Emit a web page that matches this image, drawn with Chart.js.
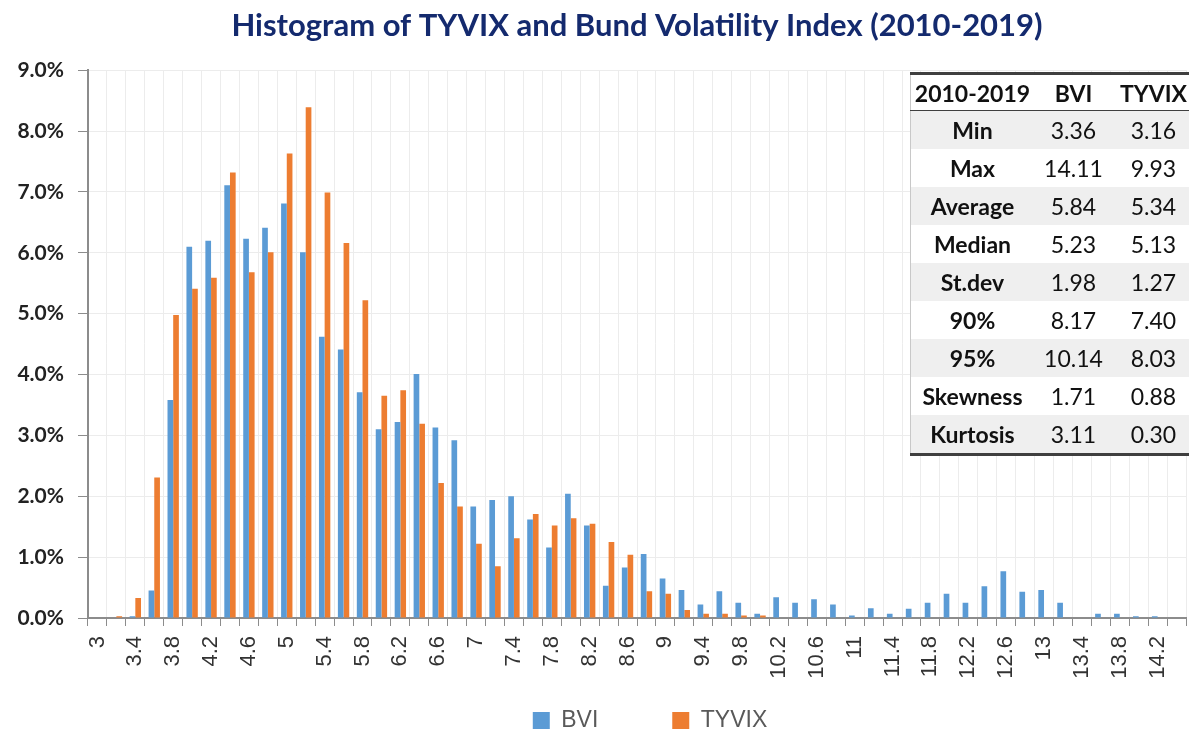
<!DOCTYPE html>
<html>
<head>
<meta charset="utf-8">
<script src="https://cdn.jsdelivr.net/npm/chart.js@4.4.1/dist/chart.umd.min.js"></script>
<style>
  html, body { margin: 0; padding: 0; background: #fff; overflow: hidden; }
  #wrap { position: relative; width: 1189px; height: 731px; overflow: hidden; }
  #stats { position: absolute; left: 910px; top: 72px; width: 284px; border-collapse: collapse;
    font-family: Lato, "Open Sans", sans-serif; font-size: 23px; color: #111;
    border-top: 3px solid #3f3f3f; border-bottom: 3px solid #3f3f3f; border-left: 1px solid #c8c8c8; }
  #stats td, #stats th { padding: 0; height: 38px; text-align: center; }
  #stats th { font-weight: bold; border-bottom: 1.5px solid #3f3f3f; height: 35px; background: #fff; }
  #stats td.lbl { font-weight: bold; width: 123px; }
  #stats td.v1 { width: 79px; }
  #stats tr.g td { background: #efefef; }
  #stats tr.w td { background: #fff; }
</style>
</head>
<body>
<div id="wrap">
  <canvas id="chart" width="1189" height="731"></canvas>
  <table id="stats"></table>
</div>
<script>
// ==================== DATA ====================
const bins = ["3", "3.2", "3.4", "3.6", "3.8", "4", "4.2", "4.4", "4.6", "4.8",
  "5", "5.2", "5.4", "5.6", "5.8", "6", "6.2", "6.4", "6.6", "6.8",
  "7", "7.2", "7.4", "7.6", "7.8", "8", "8.2", "8.4", "8.6", "8.8",
  "9", "9.2", "9.4", "9.6", "9.8", "10", "10.2", "10.4", "10.6", "10.8",
  "11", "11.2", "11.4", "11.6", "11.8", "12", "12.2", "12.4", "12.6", "12.8",
  "13", "13.2", "13.4", "13.6", "13.8", "14", "14.2", "14.4"];

// share of days in each bin, in percent
const bviPct = [0, 0, 0.03, 0.45, 3.58, 6.10, 6.20, 7.11, 6.23, 6.41,
  6.81, 6.01, 4.62, 4.41, 3.71, 3.10, 3.22, 4.01, 3.13, 2.92,
  1.83, 1.94, 2.00, 1.62, 1.16, 2.04, 1.52, 0.53, 0.83, 1.05,
  0.65, 0.46, 0.22, 0.44, 0.25, 0.07, 0.34, 0.25, 0.31, 0.22,
  0.04, 0.16, 0.07, 0.15, 0.25, 0.40, 0.25, 0.52, 0.77, 0.43,
  0.46, 0.25, 0, 0.07, 0.07, 0.03, 0.03, 0];
const tyvixPct = [0, 0.03, 0.33, 2.31, 4.98, 5.41, 5.59, 7.32, 5.68, 6.01,
  7.63, 8.39, 6.99, 6.16, 5.22, 3.65, 3.74, 3.19, 2.22, 1.83,
  1.22, 0.85, 1.31, 1.71, 1.52, 1.64, 1.55, 1.25, 1.04, 0.44,
  0.40, 0.13, 0.07, 0.07, 0.04, 0.04, 0, 0, 0, 0,
  0, 0, 0, 0, 0, 0, 0, 0, 0, 0,
  0, 0, 0, 0, 0, 0, 0, 0];

const yTicks = [0, 1, 2, 3, 4, 5, 6, 7, 8, 9];

// summary table
const statHeader = ["2010-2019", "BVI", "TYVIX"];
const statNames = ["Min", "Max", "Average", "Median", "St.dev", "90%", "95%", "Skewness", "Kurtosis"];
const statBvi = ["3.36", "14.11", "5.84", "5.23", "1.98", "8.17", "10.14", "1.71", "3.11"];
const statTyvix = ["3.16", "9.93", "5.34", "5.13", "1.27", "7.40", "8.03", "0.88", "0.30"];

// ==================== TABLE ====================
const table = document.getElementById("stats");
table.innerHTML = `<tr>${statHeader.map(h => `<th>${h}</th>`).join("")}</tr>` +
  statNames.map((n, i) => `<tr class="${i % 2 ? 'w' : 'g'}"><td class="lbl">${n}</td><td class="v1">${statBvi[i]}</td><td>${statTyvix[i]}</td></tr>`).join("");

// ==================== CHART ====================
const AXIS = "#8c8c8c", GRID = "#ececec";

// legend sits a little right of the plot centre in the original
const legendNudge = {
  id: "legendNudge",
  afterLayout(chart) {
    chart.legend.left += 13;
    chart.legend.right += 13;
  }
};

new Chart(document.getElementById("chart"), {
  type: "bar",
  data: {
    labels: bins,
    datasets: [
      { label: "BVI", data: bviPct, backgroundColor: "#5b9bd5" },
      { label: "TYVIX", data: tyvixPct, backgroundColor: "#ed7d31" }
    ]
  },
  plugins: [legendNudge],
  options: {
    responsive: false,
    devicePixelRatio: 1,
    animation: false,
    datasets: { bar: { categoryPercentage: 0.6, barPercentage: 1.0, borderWidth: 0 } },
    layout: { padding: { left: 0, right: 3, top: 0, bottom: -11 } },
    plugins: {
      tooltip: { enabled: false },
      title: {
        display: true,
        fullSize: false,
        text: "Histogram of TYVIX and Bund Volatility Index (2010-2019)",
        color: "#142a6e",
        font: { family: "Lato", size: 31, weight: "bold" },
        padding: { top: 7, bottom: 26 }
      },
      legend: {
        position: "bottom",
        fullSize: false,
        labels: {
          boxWidth: 17, boxHeight: 17, padding: 10,
          color: "#595959",
          font: { family: "Liberation Sans", size: 23 },
          generateLabels: (chart) => Chart.defaults.plugins.legend.labels.generateLabels(chart)
            .map((l, i) => ({ ...l, text: i === 0 ? l.text + "          " : l.text }))
        }
      }
    },
    scales: {
      x: {
        grid: { color: GRID, tickColor: AXIS, tickLength: 8, offset: true },
        border: { color: AXIS, width: 2 },
        ticks: {
          autoSkip: false, maxRotation: 90, minRotation: 90, padding: 10,
          color: "#333",
          font: { family: "Liberation Sans", size: 22 },
          callback: (v, i) => (i % 2 === 0 ? bins[i] : "")
        },
        afterFit: (s) => { s.height = 81; s.paddingLeft = 0; s.paddingRight = 0; }
      },
      y: {
        min: 0, max: 9,
        afterBuildTicks: (s) => { s.ticks = yTicks.map(v => ({ value: v })); },
        grid: { color: GRID, tickColor: AXIS, tickLength: 10 },
        border: { color: AXIS, width: 2 },
        ticks: {
          padding: 14, color: "#222",
          font: { family: "Lato", size: 21, weight: "bold" },
          callback: (v) => v.toFixed(1) + "%"
        },
        afterFit: (s) => { s.width = 88; }
      }
    }
  }
});
</script>
</body>
</html>
